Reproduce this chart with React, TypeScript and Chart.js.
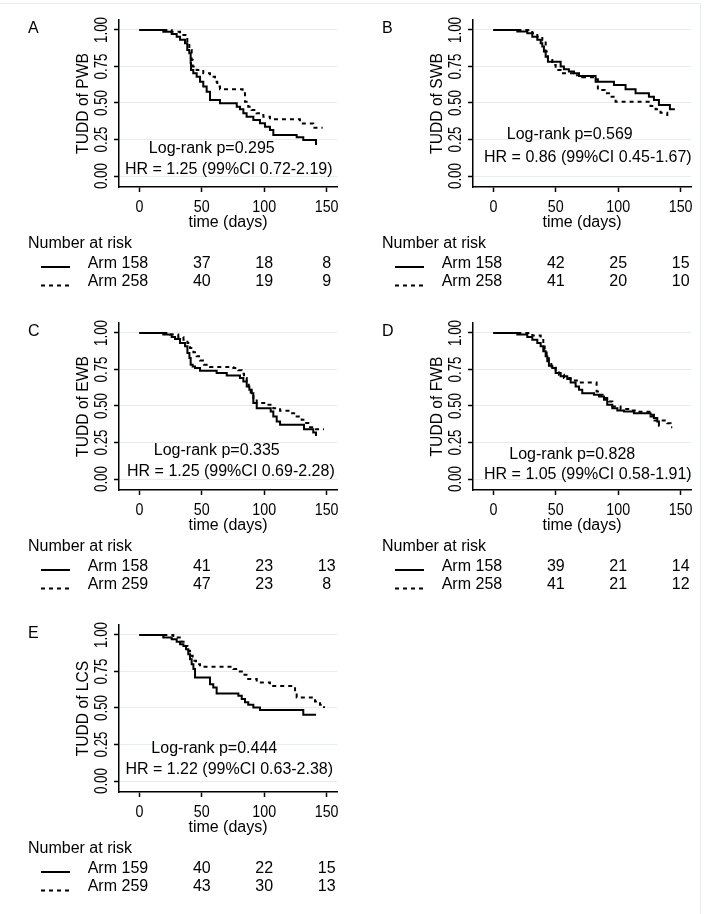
import React, { useEffect, useRef } from "react";
import { Chart, registerables } from "chart.js";

Chart.register(...registerables);

// ---- data ----
const dayTicks = [0, 50, 100, 150];
const survTicks = [0, 0.25, 0.5, 0.75, 1];

// A: PWB
const pwbArm1Days = [0, 19.2, 25.9, 29.9, 32.6, 36.6, 38.4, 40.0, 41.1, 41.4, 43.2, 45.9, 48.6, 51.2, 53.9, 56.6, 64.6, 78.0, 80.6, 83.3, 85.9, 91.3, 96.6, 100.6, 104.6, 107.3, 126.0, 131.3, 141.5];
const pwbArm1Surv = [1, 0.988, 0.973, 0.954, 0.932, 0.909, 0.863, 0.84, 0.772, 0.726, 0.703, 0.68, 0.646, 0.612, 0.577, 0.521, 0.498, 0.475, 0.457, 0.429, 0.406, 0.384, 0.361, 0.338, 0.315, 0.281, 0.265, 0.247, 0.212];
const pwbArm2Days = [0, 25.9, 32.6, 38.4, 40.0, 41.9, 42.7, 45.9, 51.2, 56.6, 60.6, 62.4, 64.6, 82.7, 84.6, 87.2, 89.9, 93.9, 99.3, 104.6, 128.6, 139.3, 146.8];
const pwbArm2Surv = [1, 0.988, 0.966, 0.909, 0.863, 0.795, 0.749, 0.726, 0.703, 0.68, 0.646, 0.612, 0.594, 0.566, 0.509, 0.475, 0.452, 0.429, 0.406, 0.388, 0.36, 0.33, 0.33];

// B: SWB
const swbArm1Days = [0, 19.2, 27.2, 31.2, 35.2, 37.9, 39.2, 40.5, 41.9, 43.7, 53.9, 56.5, 60.5, 64.6, 68.6, 81.9, 96.6, 105.9, 113.9, 124.6, 128.6, 132.6, 141.4, 145.4];
const swbArm1Surv = [1, 0.989, 0.977, 0.954, 0.932, 0.909, 0.886, 0.852, 0.817, 0.783, 0.749, 0.731, 0.715, 0.703, 0.685, 0.646, 0.623, 0.594, 0.566, 0.543, 0.521, 0.486, 0.457, 0.457];
const swbArm2Days = [0, 31.2, 35.2, 39.2, 41.9, 43.7, 47.2, 49.9, 53.9, 64.6, 71.2, 81.9, 83.7, 89.1, 93.4, 97.9, 125.9, 129.9, 133.9, 139.3, 141.4];
const swbArm2Surv = [1, 0.977, 0.954, 0.927, 0.852, 0.795, 0.76, 0.726, 0.703, 0.689, 0.676, 0.662, 0.589, 0.566, 0.543, 0.509, 0.479, 0.457, 0.434, 0.406, 0.406];

// C: EWB
const ewbArm1Days = [0, 19.2, 25.9, 28.6, 32.6, 36.6, 38.5, 40.1, 41.1, 42.7, 44.6, 48.6, 61.9, 70.0, 80.6, 83.3, 86.0, 88.1, 90.0, 91.3, 94.0, 105.2, 107.3, 110.0, 112.7, 131.9, 139.3, 141.5];
const ewbArm1Surv = [1, 0.989, 0.973, 0.959, 0.931, 0.909, 0.863, 0.828, 0.783, 0.771, 0.76, 0.741, 0.725, 0.709, 0.691, 0.668, 0.634, 0.611, 0.588, 0.52, 0.485, 0.462, 0.428, 0.394, 0.371, 0.341, 0.318, 0.295];
const ewbArm2Days = [0, 24.6, 31.2, 35.3, 38.5, 40.6, 43.3, 45.9, 48.6, 51.8, 56.6, 75.3, 79.3, 82.0, 83.8, 86.0, 87.6, 89.2, 91.3, 94.0, 102.0, 107.3, 112.7, 120.7, 126.0, 130.0, 132.7, 135.3, 139.3, 147.9];
const ewbArm2Surv = [1, 0.989, 0.973, 0.954, 0.931, 0.897, 0.867, 0.84, 0.812, 0.783, 0.767, 0.76, 0.744, 0.721, 0.691, 0.646, 0.611, 0.577, 0.547, 0.52, 0.508, 0.485, 0.467, 0.451, 0.428, 0.405, 0.383, 0.355, 0.341, 0.341];

// D: FWB
const fwbArm1Days = [0, 19.2, 27.2, 31.2, 35.2, 37.9, 40.0, 41.9, 43.2, 44.5, 47.2, 49.9, 53.9, 59.2, 61.9, 65.9, 68.6, 71.2, 80.6, 84.6, 88.6, 91.2, 95.3, 99.3, 104.6, 112.6, 125.9, 128.6, 131.3, 132.6, 133.1];
const fwbArm1Surv = [1, 0.989, 0.973, 0.954, 0.931, 0.909, 0.874, 0.84, 0.806, 0.776, 0.76, 0.725, 0.703, 0.684, 0.661, 0.634, 0.611, 0.588, 0.577, 0.565, 0.543, 0.509, 0.485, 0.469, 0.462, 0.451, 0.44, 0.417, 0.394, 0.364, 0.364];
const fwbArm2Days = [0, 31.2, 37.9, 40.0, 41.1, 42.7, 44.5, 46.4, 49.9, 52.5, 56.5, 61.9, 68.6, 82.7, 85.9, 89.1, 92.6, 95.3, 101.9, 109.9, 115.3, 125.9, 129.1, 139.3, 142.0, 143.3];
const fwbArm2Surv = [1, 0.982, 0.959, 0.927, 0.886, 0.84, 0.806, 0.771, 0.737, 0.714, 0.691, 0.675, 0.661, 0.6, 0.577, 0.554, 0.531, 0.497, 0.479, 0.469, 0.46, 0.428, 0.4, 0.382, 0.355, 0.355];

// E: LCS
const lcsArm1Days = [0, 19.2, 25.9, 29.9, 32.6, 35.3, 37.4, 39.2, 40.6, 41.9, 43.3, 44.6, 56.6, 59.2, 61.9, 79.3, 82.0, 84.6, 87.2, 91.3, 96.6, 131.3, 141.5];
const lcsArm1Surv = [1, 0.982, 0.97, 0.954, 0.936, 0.925, 0.902, 0.868, 0.834, 0.8, 0.766, 0.709, 0.663, 0.641, 0.6, 0.584, 0.561, 0.539, 0.523, 0.504, 0.486, 0.454, 0.454];
const lcsArm2Days = [0, 27.2, 33.9, 36.6, 38.5, 40.6, 42.7, 45.4, 48.6, 75.3, 79.3, 83.3, 87.2, 94.0, 104.6, 124.7, 126.0, 140.7, 144.7, 147.9];
const lcsArm2Surv = [1, 0.982, 0.954, 0.925, 0.891, 0.857, 0.823, 0.8, 0.782, 0.766, 0.75, 0.727, 0.698, 0.675, 0.65, 0.607, 0.572, 0.545, 0.523, 0.5];

// numbers at risk at 0, 50, 100, 150 days
const pwbRisk1 = [58, 37, 18, 8];
const pwbRisk2 = [58, 40, 19, 9];
const swbRisk1 = [58, 42, 25, 15];
const swbRisk2 = [58, 41, 20, 10];
const ewbRisk1 = [58, 41, 23, 13];
const ewbRisk2 = [59, 47, 23, 8];
const fwbRisk1 = [58, 39, 21, 14];
const fwbRisk2 = [58, 41, 21, 12];
const lcsRisk1 = [59, 40, 22, 15];
const lcsRisk2 = [59, 43, 30, 13];

const letters = ["A", "B", "C", "D", "E"];
const domains = ["PWB", "SWB", "EWB", "FWB", "LCS"];
const logRankP = ["0.295", "0.569", "0.335", "0.828", "0.444"];
const hazardRatios = [
  "HR = 1.25 (99%CI 0.72-2.19)",
  "HR = 0.86 (99%CI 0.45-1.67)",
  "HR = 1.25 (99%CI 0.69-2.28)",
  "HR = 1.05 (99%CI 0.58-1.91)",
  "HR = 1.22 (99%CI 0.63-2.38)",
];

type Curve = { days: number[]; surv: number[] };
type Panel = {
  letter: string;
  domain: string;
  arm1: Curve;
  arm2: Curve;
  risk1: number[];
  risk2: number[];
  pValue: string;
  hr: string;
  // where the two annotation lines sit, in data units (day, survival)
  pAt: [number, number];
  hrAt: [number, number];
};

const panels: Panel[] = [
  { arm1: { days: pwbArm1Days, surv: pwbArm1Surv }, arm2: { days: pwbArm2Days, surv: pwbArm2Surv }, risk1: pwbRisk1, risk2: pwbRisk2, pAt: [58, 0.158], hrAt: [71.6, 0.014] },
  { arm1: { days: swbArm1Days, surv: swbArm1Surv }, arm2: { days: swbArm2Days, surv: swbArm2Surv }, risk1: swbRisk1, risk2: swbRisk2, pAt: [61.2, 0.251], hrAt: [75.7, 0.098] },
  { arm1: { days: ewbArm1Days, surv: ewbArm1Surv }, arm2: { days: ewbArm2Days, surv: ewbArm2Surv }, risk1: ewbRisk1, risk2: ewbRisk2, pAt: [62, 0.166], hrAt: [73.3, 0.018] },
  { arm1: { days: fwbArm1Days, surv: fwbArm1Surv }, arm2: { days: fwbArm2Days, surv: fwbArm2Surv }, risk1: fwbRisk1, risk2: fwbRisk2, pAt: [63.2, 0.137], hrAt: [75.7, 0.0] },
  { arm1: { days: lcsArm1Days, surv: lcsArm1Surv }, arm2: { days: lcsArm2Days, surv: lcsArm2Surv }, risk1: lcsRisk1, risk2: lcsRisk2, pAt: [60, 0.194], hrAt: [72, 0.045] },
].map((p, i) => ({
  ...p,
  letter: letters[i],
  domain: domains[i],
  pValue: logRankP[i],
  hr: hazardRatios[i],
}));

const panelLeft = [0, 354, 0, 354, 0];
const panelTop = [0, 0, 303, 303, 605];

const W = 353;
const H = 303;
const FONT = '"Liberation Sans", Arial, sans-serif';

const toPoints = (c: Curve) => c.days.map((d, i) => ({ x: d, y: c.surv[i] }));

// draws text squeezed along its run direction, optionally turned to read bottom-up
function squeezed(
  ctx: CanvasRenderingContext2D,
  text: string,
  x: number,
  y: number,
  size: number,
  sx: number,
  vertical = false
) {
  ctx.save();
  ctx.translate(x, y);
  if (vertical) ctx.rotate(-Math.PI / 2);
  ctx.scale(sx, 1);
  ctx.font = `${size}px ${FONT}`;
  ctx.textAlign = "center";
  ctx.textBaseline = "alphabetic";
  ctx.fillText(text, 0, 0);
  ctx.restore();
}

const KMPanel: React.FC<{ panel: Panel; left: number; top: number }> = ({ panel, left, top }) => {
  const chartRef = useRef<HTMLCanvasElement | null>(null);

  useEffect(() => {
    const textPlugin = {
      id: "kmText",
      afterDraw(chart: any) {
        const ctx: CanvasRenderingContext2D = chart.ctx;
        const xs = chart.scales.x;
        const ys = chart.scales.y;
        const area = chart.chartArea;
        ctx.save();
        ctx.fillStyle = "#000";

        // panel letter
        ctx.font = `16px ${FONT}`;
        ctx.textAlign = "left";
        ctx.textBaseline = "alphabetic";
        ctx.fillText(panel.letter, 28, 33);

        // y tick labels and title
        survTicks.forEach((v) => {
          squeezed(ctx, v.toFixed(2), 107, ys.getPixelForValue(v), 18, 0.74, true);
        });
        squeezed(ctx, `TUDD of ${panel.domain}`, 88, (area.top + area.bottom) / 2, 17, 0.92, true);

        // x tick labels and title
        dayTicks.forEach((v) => {
          squeezed(ctx, String(v), xs.getPixelForValue(v), 212, 17, 0.84);
        });
        ctx.font = `16px ${FONT}`;
        ctx.textAlign = "center";
        ctx.fillText("time (days)", (area.left + area.right) / 2, 227);

        // test results
        ctx.fillText(`Log-rank p=${panel.pValue}`, xs.getPixelForValue(panel.pAt[0]), ys.getPixelForValue(panel.pAt[1]));
        ctx.fillText(panel.hr, xs.getPixelForValue(panel.hrAt[0]), ys.getPixelForValue(panel.hrAt[1]));

        // number at risk table
        ctx.textAlign = "left";
        ctx.fillText("Number at risk", 28, 248);
        const rows = [
          { label: "Arm 1", nums: panel.risk1, base: 268, lineY: 267, dash: [] as number[] },
          { label: "Arm 2", nums: panel.risk2, base: 286, lineY: 285.5, dash: [4, 4] },
        ];
        rows.forEach((r) => {
          ctx.textAlign = "right";
          ctx.fillText(r.label, xs.getPixelForValue(0) - 9, r.base);
          ctx.textAlign = "center";
          r.nums.forEach((n, i) => ctx.fillText(String(n), xs.getPixelForValue(dayTicks[i]), r.base));
          ctx.beginPath();
          ctx.setLineDash(r.dash);
          ctx.lineWidth = 2;
          ctx.strokeStyle = "#000";
          ctx.moveTo(41, r.lineY);
          ctx.lineTo(70, r.lineY);
          ctx.stroke();
        });
        ctx.setLineDash([]);
        ctx.restore();
      },
    };

    const chart = new Chart(chartRef.current as HTMLCanvasElement, {
      type: "line",
      data: {
        datasets: [
          {
            label: "Arm 1",
            data: toPoints(panel.arm1),
            borderColor: "#000",
            borderWidth: 2,
            stepped: "before",
            pointRadius: 0,
            fill: false,
          },
          {
            label: "Arm 2",
            data: toPoints(panel.arm2),
            borderColor: "#000",
            borderWidth: 2,
            borderDash: [4, 4],
            stepped: "before",
            pointRadius: 0,
            fill: false,
          },
        ],
      },
      options: {
        animation: false,
        responsive: false,
        maintainAspectRatio: false,
        events: [],
        layout: { autoPadding: false, padding: { left: 0, right: 16, top: 20, bottom: 0 } },
        plugins: { legend: { display: false }, tooltip: { enabled: false } },
        scales: {
          x: {
            type: "linear",
            min: -16.3,
            max: 158.3,
            afterBuildTicks: (s: any) => {
              s.ticks = dayTicks.map((v) => ({ value: v }));
            },
            afterFit: (s: any) => {
              s.height = 116;
            },
            ticks: { display: false },
            grid: { drawOnChartArea: false, drawTicks: true, tickLength: 5, tickColor: "#000", tickWidth: 1.5 },
            border: { color: "#000", width: 1.5 },
          },
          y: {
            type: "linear",
            min: -0.075,
            max: 1.068,
            afterBuildTicks: (s: any) => {
              s.ticks = survTicks.map((v) => ({ value: v }));
            },
            afterFit: (s: any) => {
              s.width = 119;
            },
            ticks: { display: false },
            grid: { color: "#e3ecef", lineWidth: 1, drawTicks: true, tickLength: 5, tickColor: "#000", tickWidth: 1.5 },
            border: { color: "#000", width: 1.5 },
          },
        },
      },
      plugins: [textPlugin],
    } as any);

    return () => {
      chart.destroy();
    };
  }, []);

  return (
    <canvas
      ref={chartRef}
      width={W}
      height={H}
      style={{ position: "absolute", left, top, width: W, height: H }}
    />
  );
};

export default function App() {
  return (
    <div
      style={{
        position: "absolute",
        left: 0,
        top: 0,
        width: 711,
        height: 914,
        background: "#fff",
        overflow: "hidden",
      }}
    >
      <div style={{ position: "absolute", left: 0, top: 3, width: 701, height: 1, background: "#e9edef" }} />
      <div style={{ position: "absolute", left: 700, top: 3, width: 1, height: 911, background: "#e9edef" }} />
      {panels.map((p, i) => (
        <KMPanel key={p.letter} panel={p} left={panelLeft[i]} top={panelTop[i]} />
      ))}
    </div>
  );
}
